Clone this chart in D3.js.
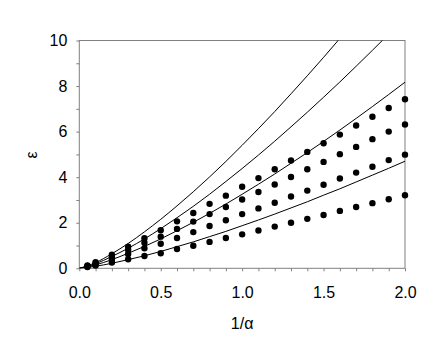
<!DOCTYPE html>
<html>
<head>
<meta charset="utf-8">
<script src="https://cdn.jsdelivr.net/npm/d3@7"></script>
<style>
  body { margin: 0; background: #fff; }
  text { font-family: "Liberation Sans", Arial, sans-serif; }
</style>
</head>
<body>
<svg width="443" height="346"></svg>
<script>
// dot series
var xDots = [0.05, 0.1, 0.2, 0.3, 0.4, 0.5, 0.6, 0.7, 0.8, 0.9, 1.0, 1.1, 1.2, 1.3, 1.4, 1.5, 1.6, 1.7, 1.8, 1.9, 2.0];
var dotsA = [0.12, 0.27, 0.60, 0.95, 1.32, 1.67, 2.06, 2.43, 2.83, 3.19, 3.58, 3.96, 4.35, 4.73, 5.11, 5.49, 5.87, 6.27, 6.65, 7.04, 7.42];
var dotsB = [0.10, 0.22, 0.48, 0.81, 1.12, 1.39, 1.73, 2.05, 2.38, 2.69, 3.02, 3.35, 3.68, 4.01, 4.35, 4.67, 5.01, 5.33, 5.67, 6.00, 6.31];
var dotsC = [0.08, 0.17, 0.37, 0.63, 0.88, 1.08, 1.33, 1.59, 1.86, 2.11, 2.38, 2.63, 2.88, 3.15, 3.41, 3.67, 3.94, 4.20, 4.46, 4.75, 4.99];
var dotsD = [0.06, 0.12, 0.25, 0.40, 0.54, 0.66, 0.85, 0.99, 1.16, 1.33, 1.49, 1.66, 1.83, 2.00, 2.17, 2.34, 2.52, 2.69, 2.86, 3.03, 3.21];

// solid curves
var xLine = [0, 0.1, 0.2, 0.3, 0.4, 0.5, 0.6, 0.7, 0.8, 0.9, 1.0, 1.1, 1.2, 1.3, 1.4, 1.5, 1.6, 1.7, 1.8, 1.9, 2.0];
var line1 = [0, 0.25, 0.64, 1.09, 1.60, 2.15, 2.74, 3.36, 4.01, 4.69, 5.40, 6.13, 6.88, 7.66, 8.45, 9.26, 10.09, 10.94];
var line2 = [0, 0.20, 0.52, 0.88, 1.29, 1.74, 2.22, 2.72, 3.25, 3.81, 4.38, 4.97, 5.58, 6.21, 6.85, 7.51, 8.18, 8.87, 9.57, 10.28];
var line3 = [0, 0.15, 0.38, 0.66, 0.96, 1.29, 1.65, 2.02, 2.41, 2.82, 3.25, 3.69, 4.14, 4.61, 5.08, 5.57, 6.07, 6.58, 7.10, 7.63, 8.17];
var line4 = [0, 0.09, 0.22, 0.38, 0.55, 0.74, 0.95, 1.16, 1.39, 1.62, 1.87, 2.12, 2.38, 2.65, 2.92, 3.21, 3.49, 3.79, 4.09, 4.39, 4.70];

var xTicks = [0, 0.5, 1.0, 1.5, 2.0];
var yTicks = [0, 2, 4, 6, 8, 10];

var svg = d3.select("svg"),
    margin = {top: 40.5, right: 38, bottom: 77.7, left: 79.3},
    width = +svg.attr("width") - margin.left - margin.right,
    height = +svg.attr("height") - margin.top - margin.bottom;

var x = d3.scaleLinear().domain([0, 2]).range([0, width]);
var y = d3.scaleLinear().domain([0, 10]).range([height, 0]);

var g = svg.append("g").attr("transform", "translate(" + margin.left + "," + margin.top + ")");

var axisCol = "#808080";

// frame
g.append("rect")
  .attr("width", width).attr("height", height)
  .attr("fill", "none").attr("stroke", axisCol).attr("stroke-width", 1);

// minor ticks
g.append("g")
  .attr("transform", "translate(0," + height + ")")
  .call(d3.axisBottom(x).tickValues(d3.range(0, 21).map(d => d / 10)).tickSize(3).tickFormat(""))
  .call(a => a.select(".domain").remove())
  .call(a => a.selectAll("line").attr("stroke", axisCol));
g.append("g")
  .call(d3.axisLeft(y).tickValues(d3.range(0, 11)).tickSize(3).tickFormat(""))
  .call(a => a.select(".domain").remove())
  .call(a => a.selectAll("line").attr("stroke", axisCol));

// labels
g.append("g")
  .attr("transform", "translate(0," + height + ")")
  .call(d3.axisBottom(x).tickValues(xTicks).tickSize(0).tickPadding(18).tickFormat(d3.format(".1f")))
  .call(a => a.select(".domain").remove())
  .call(a => a.selectAll("text").attr("font-size", 16).attr("fill", "#000").attr("font-family", "Liberation Sans, Arial, sans-serif"));
g.append("g")
  .call(d3.axisLeft(y).tickValues(yTicks).tickSize(0).tickPadding(12).tickFormat(d3.format("d")))
  .call(a => a.select(".domain").remove())
  .call(a => a.selectAll("text").attr("font-size", 16).attr("fill", "#000").attr("font-family", "Liberation Sans, Arial, sans-serif"));

// axis titles
svg.append("text")
  .attr("x", margin.left + width / 2).attr("y", 329)
  .attr("text-anchor", "middle").attr("font-size", 16)
  .text("1/α");
svg.append("text")
  .attr("transform", "translate(37,155) rotate(-90)")
  .attr("text-anchor", "middle").attr("font-size", 16)
  .text("ε");

// clip for curves
svg.append("clipPath").attr("id", "clip")
  .append("rect").attr("width", width).attr("height", height);

var line = d3.line()
  .x((d, i) => x(xLine[i]))
  .y(d => y(d))
  .curve(d3.curveMonotoneX);

g.append("g").attr("clip-path", "url(#clip)")
  .selectAll("path")
  .data([line1, line2, line3, line4])
  .enter()
  .append("path")
    .attr("d", line)
    .attr("fill", "none")
    .attr("stroke", "#000")
    .attr("stroke-width", 1);

// dots
[dotsA, dotsB, dotsC, dotsD].forEach(function(s) {
  g.selectAll(null)
    .data(s)
    .enter()
    .append("circle")
      .attr("cx", (d, i) => x(xDots[i]))
      .attr("cy", d => y(d))
      .attr("r", 3.2)
      .attr("fill", "#000");
});
</script>
</body>
</html>
